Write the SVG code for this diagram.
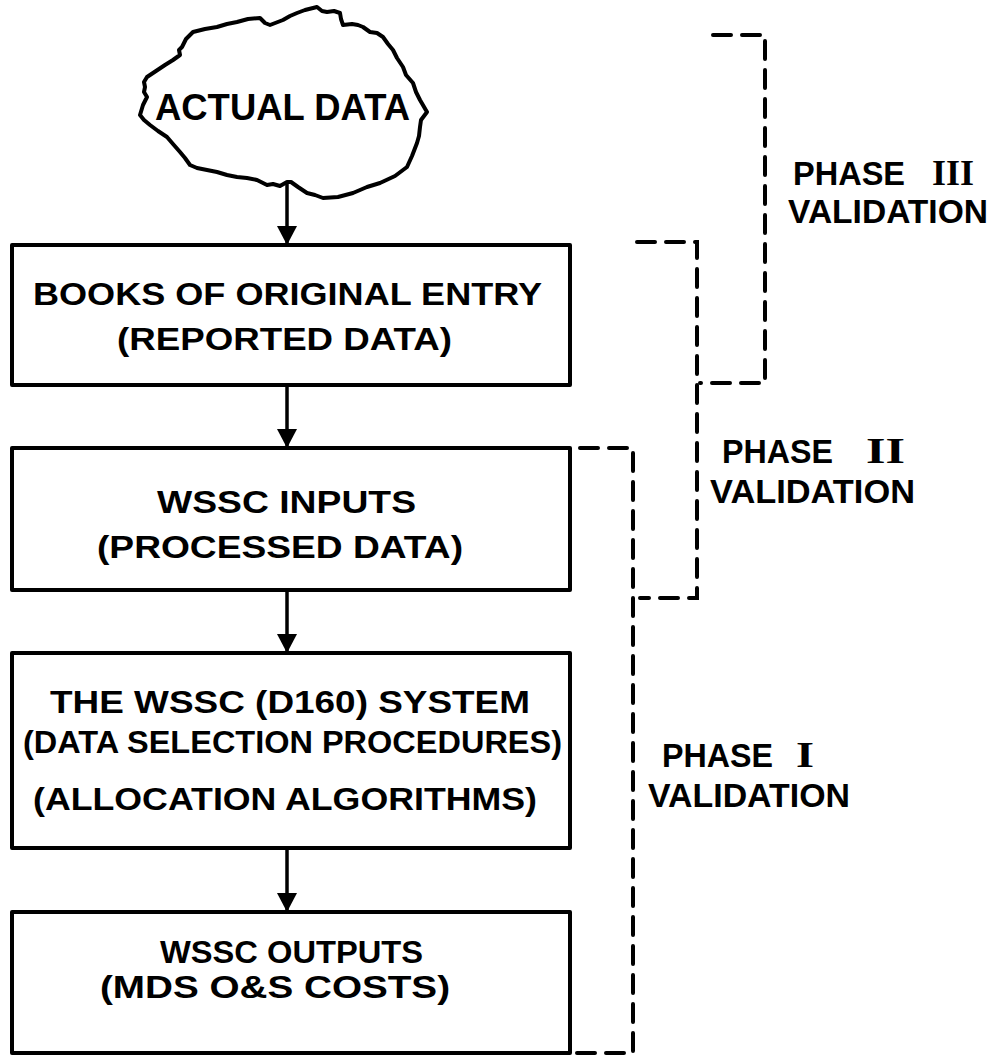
<svg xmlns="http://www.w3.org/2000/svg" width="998" height="1057" viewBox="0 0 998 1057">
<style>
  .box{fill:#fff;stroke:#000;stroke-width:4;stroke-linejoin:round}
  .t{font-family:"Liberation Sans",Arial,sans-serif;font-weight:bold;font-size:32px;fill:#000}
  .p{font-family:"Liberation Sans",Arial,sans-serif;font-weight:bold;font-size:33px;fill:#000}
  .rn{font-family:"Liberation Serif","Times New Roman",serif;font-weight:bold;font-size:35px}
  .shaft{stroke:#000;stroke-width:3.5;fill:none}
  .dash{stroke:#000;stroke-width:4;fill:none;stroke-dasharray:18 11;stroke-linecap:round}
</style>
<rect width="998" height="1057" fill="#fff"/>

<g id="connectors">
  <path class="shaft" d="M287,182 V245"/><path d="M277,226 L297,226 L287,245 Z"/>
  <path class="shaft" d="M287,385 V448"/><path d="M277,429 L297,429 L287,448 Z"/>
  <path class="shaft" d="M287,590 V653"/><path d="M277,634 L297,634 L287,653 Z"/>
  <path class="shaft" d="M287,848 V912"/><path d="M277,893 L297,893 L287,912 Z"/>
</g>

<g id="actual-data">
  <path fill="#fff" stroke="#000" stroke-width="4" stroke-linejoin="round" d="M317,7 L322,11 L327,12 L334,11 L340,13 L341,19 L343,25 L352,24 L358,25 L363,27 L370,32 L377,33 L383,37 L388,44 L393,50 L397,58 L403,67 L406,75 L413,83 L416,92 L420,100 L427,112 L421,120 L420,127 L419,136 L417,143 L412,156 L407,167 L395,176 L380,183 L367,187 L353,193 L338,197 L323,198 L315,195 L307,193 L298,187 L291,182 L287,182 L280,186 L273,184 L267,185 L257,180 L247,178 L237,177 L227,175 L217,172 L207,170 L197,168 L190,165 L185,158 L180,152 L173,144 L167,137 L158,131 L150,125 L144,120 L140,115 L143,105 L147,97 L144,92 L145,87 L144,82 L147,77 L156,71 L165,65 L173,60 L180,55 L179,50 L182,47 L186,39 L193,32 L205,29 L217,27 L227,24 L237,22 L248,19 L260,18 L265,23 L270,25 L283,20 L290,16 L297,13 L305,10 Z"/>
  <text class="t" x="155" y="120" style="font-size:36px" textLength="255" lengthAdjust="spacingAndGlyphs">ACTUAL DATA</text>
</g>

<g id="books">
  <rect class="box" x="12" y="245" width="558" height="140"/>
  <text class="t" x="33" y="305" textLength="509" lengthAdjust="spacingAndGlyphs">BOOKS OF ORIGINAL ENTRY</text>
  <text class="t" x="117" y="350" textLength="335" lengthAdjust="spacingAndGlyphs">(REPORTED DATA)</text>
</g>

<g id="inputs">
  <rect class="box" x="12" y="448" width="558" height="142"/>
  <text class="t" x="157" y="513" textLength="259" lengthAdjust="spacingAndGlyphs">WSSC INPUTS</text>
  <text class="t" x="97" y="558" textLength="366" lengthAdjust="spacingAndGlyphs">(PROCESSED DATA)</text>
</g>

<g id="system">
  <rect class="box" x="12" y="653" width="558" height="195"/>
  <text class="t" x="50" y="713" textLength="480" lengthAdjust="spacingAndGlyphs">THE WSSC (D160) SYSTEM</text>
  <text class="t" x="23" y="753" textLength="539" lengthAdjust="spacingAndGlyphs">(DATA SELECTION PROCEDURES)</text>
  <text class="t" x="33" y="810" textLength="504" lengthAdjust="spacingAndGlyphs">(ALLOCATION ALGORITHMS)</text>
</g>

<g id="outputs">
  <rect class="box" x="12" y="912" width="558" height="141"/>
  <text class="t" x="160" y="963" textLength="263" lengthAdjust="spacingAndGlyphs">WSSC OUTPUTS</text>
  <text class="t" x="100" y="998" textLength="350" lengthAdjust="spacingAndGlyphs">(MDS O&amp;S COSTS)</text>
</g>

<g id="phase-3">
  <path class="dash" d="M713,35 H765 V383 H700"/>
  <text class="p" x="793" y="185"><tspan textLength="112" lengthAdjust="spacingAndGlyphs">PHASE</tspan><tspan class="rn" x="932" textLength="42" lengthAdjust="spacingAndGlyphs">III</tspan></text>
  <text class="p" x="788" y="223" textLength="200" lengthAdjust="spacingAndGlyphs">VALIDATION</text>
</g>

<g id="phase-2">
  <path class="dash" d="M637,242 H697 V598 H640"/>
  <text class="p" x="722" y="463"><tspan textLength="111" lengthAdjust="spacingAndGlyphs">PHASE</tspan><tspan class="rn" x="866" textLength="39" lengthAdjust="spacingAndGlyphs">II</tspan></text>
  <text class="p" x="710" y="503" textLength="205" lengthAdjust="spacingAndGlyphs">VALIDATION</text>
</g>

<g id="phase-1">
  <path class="dash" d="M580,448 H633 V1053 H572"/>
  <text class="p" x="662" y="767"><tspan textLength="111" lengthAdjust="spacingAndGlyphs">PHASE</tspan><tspan class="rn" x="796" textLength="18" lengthAdjust="spacingAndGlyphs">I</tspan></text>
  <text class="p" x="648" y="807" textLength="202" lengthAdjust="spacingAndGlyphs">VALIDATION</text>
</g>
</svg>
